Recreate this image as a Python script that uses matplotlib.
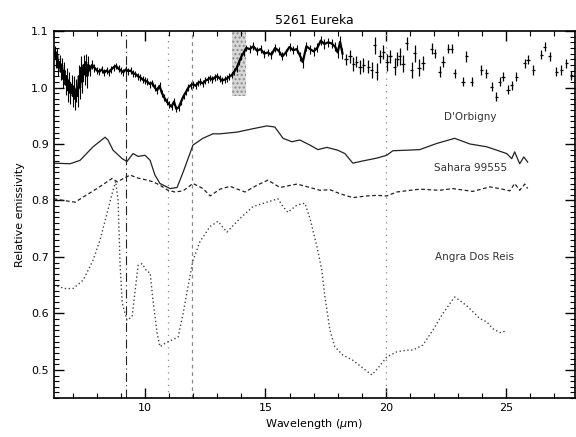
import numpy as np
import matplotlib
matplotlib.use("Agg")
import matplotlib.pyplot as plt
from matplotlib.ticker import MultipleLocator

# ---------------- data ----------------
# 5261 Eureka (dense part, 6.2-18.2 um)
eur_x_dense = [6.25, 6.3, 6.35, 6.4, 6.45, 6.5, 6.55, 6.6, 6.65, 6.7, 6.75, 6.8, 6.85, 6.9, 6.95,
               7.0, 7.05, 7.1, 7.15, 7.2, 7.25, 7.3, 7.35, 7.4, 7.45, 7.5, 7.55, 7.6, 7.65, 7.7,
               7.8, 7.9, 8.0, 8.1, 8.2, 8.3, 8.4, 8.5, 8.6, 8.7, 8.8, 8.9, 9.0, 9.1, 9.2, 9.3,
               9.4, 9.5, 9.6, 9.7, 9.8, 9.9, 10.0, 10.1, 10.2, 10.3, 10.4, 10.5, 10.6, 10.7,
               10.8, 10.9, 11.0, 11.1, 11.2, 11.3, 11.4, 11.5, 11.6, 11.7, 11.8, 11.9, 12.0,
               12.1, 12.2, 12.3, 12.4, 12.5, 12.6, 12.7, 12.8, 12.9, 13.0, 13.1, 13.2, 13.3,
               13.4, 13.5, 13.6, 13.7, 13.8, 13.9, 14.0, 14.1, 14.2, 14.35, 14.5, 14.65, 14.8,
               14.95, 15.1, 15.25, 15.4, 15.55, 15.7, 15.85, 16.0, 16.15, 16.3, 16.45, 16.55,
               16.7, 16.85, 17.0, 17.15, 17.3, 17.45, 17.6, 17.75, 17.9, 18.0, 18.1, 18.2]
eur_y_dense = [1.062, 1.05, 1.058, 1.035, 1.045, 1.028, 1.04, 1.015, 1.03, 1.005, 1.02, 0.995,
               1.01, 0.99, 1.005, 0.985, 1.0, 0.98, 0.995, 0.985, 1.02, 1.0, 1.035, 1.01, 1.04,
               1.025, 1.045, 1.02, 1.04, 1.03,
               1.04, 1.035, 1.03, 1.028, 1.032, 1.026, 1.03, 1.027, 1.032, 1.036, 1.038, 1.033,
               1.03, 1.027, 1.032, 1.029, 1.03, 1.025, 1.024, 1.02, 1.018, 1.014, 1.012, 1.01,
               1.006, 1.008, 1.0, 0.995, 1.003, 0.99, 0.982, 0.975, 0.97, 0.966, 0.975, 0.962,
               0.965, 0.975, 0.985, 0.992, 1.0, 1.004, 1.006, 1.003, 1.008, 1.01, 1.007, 1.012,
               1.014, 1.017, 1.014, 1.018, 1.02, 1.016, 1.012, 1.014, 1.016, 1.019, 1.022,
               1.028, 1.034, 1.045, 1.055, 1.062, 1.07, 1.068, 1.073, 1.065, 1.068, 1.06,
               1.062, 1.058, 1.07, 1.065, 1.055, 1.062, 1.072, 1.066, 1.068, 1.055, 1.045,
               1.073, 1.068, 1.064, 1.07, 1.083, 1.077, 1.08, 1.078, 1.072, 1.062, 1.081, 1.06]
eur_e_dense = [0.012, 0.015, 0.012, 0.015, 0.012, 0.015, 0.012, 0.015, 0.015, 0.018, 0.015, 0.02,
               0.018, 0.02, 0.018, 0.02, 0.02, 0.02, 0.02, 0.02, 0.02, 0.02, 0.02, 0.02, 0.018,
               0.02, 0.015, 0.02, 0.015, 0.01,
               0.008, 0.007, 0.006, 0.006, 0.006, 0.006, 0.006, 0.006, 0.006, 0.006, 0.006,
               0.006, 0.006, 0.006, 0.006, 0.006, 0.006, 0.006, 0.006, 0.006, 0.006, 0.006,
               0.006, 0.006, 0.006, 0.006, 0.006, 0.006, 0.006, 0.006, 0.006, 0.006, 0.006,
               0.006, 0.006, 0.006, 0.006, 0.006, 0.006, 0.006, 0.006, 0.006, 0.006, 0.006,
               0.006, 0.006, 0.006, 0.006, 0.006, 0.006, 0.006, 0.006, 0.006, 0.006, 0.006,
               0.006, 0.006, 0.006, 0.006, 0.006, 0.006, 0.006, 0.006, 0.006, 0.006, 0.007,
               0.007, 0.007, 0.007, 0.007, 0.007, 0.007, 0.007, 0.007, 0.007, 0.007, 0.007,
               0.007, 0.007, 0.008, 0.01, 0.008, 0.008, 0.008, 0.008, 0.008, 0.008, 0.008,
               0.008, 0.008, 0.01, 0.01, 0.01]

# 5261 Eureka (sparse part, 18.3-27.7 um)
eur_x_sparse = [18.35, 18.51, 18.65, 18.78, 18.92, 19.06, 19.27, 19.41, 19.54, 19.62, 19.75, 19.89,
                20.05, 20.17, 20.37, 20.48, 20.58, 20.72, 20.86, 21.07, 21.2, 21.38, 21.55, 21.9,
                22.03, 22.24, 22.38, 22.59, 22.73, 22.86, 23.21, 23.35, 23.56, 23.97, 24.17,
                24.39, 24.59, 24.73, 24.87, 25.07, 25.22, 25.42, 25.77, 25.91, 26.12, 26.46,
                26.6, 26.81, 27.08, 27.29, 27.5, 27.7]
eur_y_sparse = [1.05, 1.055, 1.042, 1.046, 1.036, 1.04, 1.037, 1.031, 1.075, 1.028, 1.055, 1.063,
                1.045, 1.055, 1.037, 1.05, 1.055, 1.042, 1.078, 1.031, 1.061, 1.035, 1.043, 1.069,
                1.061, 1.028, 1.046, 1.069, 1.069, 1.025, 1.01, 1.055, 1.01, 1.031, 1.025,
                1.001, 0.984, 1.01, 1.019, 0.996, 1.004, 1.019, 1.043, 1.049, 1.031, 1.058,
                1.072, 1.055, 1.028, 1.031, 1.043, 1.022]
eur_e_sparse = [0.01, 0.012, 0.012, 0.01, 0.012, 0.012, 0.012, 0.015, 0.015, 0.015, 0.012, 0.012,
                0.015, 0.012, 0.015, 0.012, 0.015, 0.015, 0.012, 0.015, 0.015, 0.015, 0.012, 0.01,
                0.008, 0.01, 0.01, 0.008, 0.008, 0.008, 0.008, 0.01, 0.008, 0.008, 0.008,
                0.008, 0.008, 0.008, 0.008, 0.008, 0.008, 0.008, 0.008, 0.008, 0.008, 0.008,
                0.008, 0.008, 0.008, 0.008, 0.008, 0.008]

# D'Orbigny (solid)
dorb_x = [6.2, 6.89, 7.3, 7.84, 8.34, 8.46, 8.67, 9.05, 9.25, 9.5, 9.71, 10.0, 10.21, 10.41,
          10.62, 11.04, 11.33, 11.58, 11.99, 12.4, 12.82, 13.11, 13.82, 14.48, 15.06, 15.39,
          15.73, 16.1, 16.43, 16.85, 17.18, 17.55, 18.0, 18.3, 18.63, 19.05, 19.63, 20.04,
          20.29, 20.87, 21.41, 22.12, 22.86, 23.49, 24.19, 24.61, 25.02, 25.23, 25.35, 25.56,
          25.73, 25.89]
dorb_y = [0.866, 0.865, 0.871, 0.895, 0.912, 0.907, 0.889, 0.874, 0.869, 0.883, 0.878, 0.88,
          0.871, 0.845, 0.83, 0.821, 0.823, 0.85, 0.898, 0.91, 0.918, 0.918, 0.921, 0.927,
          0.932, 0.93, 0.91, 0.904, 0.907, 0.898, 0.89, 0.894, 0.889, 0.883, 0.866, 0.87,
          0.875, 0.88, 0.888, 0.889, 0.89, 0.901, 0.91, 0.9, 0.895, 0.889, 0.883, 0.874,
          0.886, 0.865, 0.877, 0.868]

# Sahara 99555 (dashed)
sah_x = [6.2, 6.6, 7.1, 7.43, 8.0, 8.63, 8.84, 9.38, 9.67, 10.08, 10.33, 10.62, 10.95, 11.24,
         11.58, 11.99, 12.41, 12.7, 13.11, 13.53, 14.15, 14.65, 15.1, 15.6, 16.31, 16.85,
         17.26, 17.68, 18.09, 18.63, 19.21, 19.63, 20.04, 20.46, 21.41, 22.24, 22.78, 23.61,
         24.32, 24.73, 25.15, 25.35, 25.56, 25.77, 25.89]
sah_y = [0.803, 0.8, 0.797, 0.806, 0.821, 0.839, 0.833, 0.845, 0.84, 0.836, 0.833, 0.827,
         0.818, 0.815, 0.817, 0.83, 0.821, 0.808, 0.82, 0.825, 0.815, 0.827, 0.836, 0.823,
         0.829, 0.823, 0.818, 0.819, 0.812, 0.805, 0.808, 0.809, 0.808, 0.815, 0.82, 0.818,
         0.821, 0.816, 0.824, 0.821, 0.817, 0.83, 0.818, 0.829, 0.821]

# Angra Dos Reis (dotted)
angra_x = [6.2, 6.68, 7.01, 7.43, 7.84, 8.13, 8.42, 8.63, 8.78, 8.88, 8.96, 9.05, 9.25, 9.46,
           9.59, 9.71, 9.88, 10.08, 10.21, 10.33, 10.5, 10.62, 10.83, 11.12, 11.37, 11.58,
           11.78, 11.99, 12.28, 12.7, 13.03, 13.4, 13.94, 14.48, 15.06, 15.52, 15.73, 15.93,
           16.31, 16.64, 16.85, 17.14, 17.34, 17.47, 17.68, 17.88, 18.22, 18.63, 19.05, 19.42,
           19.67, 20.04, 20.46, 20.87, 21.12, 21.54, 21.95, 22.37, 22.86, 23.07, 23.4, 23.9,
           24.19, 24.44, 24.73, 25.02]
angra_y = [0.65, 0.644, 0.644, 0.659, 0.694, 0.73, 0.777, 0.812, 0.834, 0.8, 0.689, 0.618,
           0.588, 0.594, 0.641, 0.685, 0.688, 0.674, 0.672, 0.623, 0.565, 0.541, 0.547, 0.553,
           0.558, 0.6, 0.647, 0.694, 0.727, 0.754, 0.763, 0.744, 0.768, 0.789, 0.797, 0.803,
           0.789, 0.779, 0.792, 0.795, 0.768, 0.718, 0.677, 0.629, 0.57, 0.541, 0.526, 0.517,
           0.503, 0.491, 0.503, 0.523, 0.532, 0.535, 0.535, 0.544, 0.57, 0.6, 0.629, 0.623,
           0.612, 0.591, 0.585, 0.573, 0.566, 0.569]

# reference vertical lines and shaded band
vlines_x = [9.22, 10.95, 11.95, 20.0]
band_x = [13.6, 14.2]
band_y = [0.985, 1.1]

# labels
title = "5261 Eureka"
xlabel = "Wavelength ($\\mu$m)"
ylabel = "Relative emissivity"
labels = ["D'Orbigny", "Sahara 99555", "Angra Dos Reis"]
label_x = [23.5, 23.5, 23.7]
label_y = [0.947, 0.857, 0.7]

# ---------------- plot ----------------
plt.rcParams['font.family'] = ['DejaVu Sans']
fig = plt.figure(figsize=(5.76, 4.37), dpi=100)
ax = fig.add_axes([0.093, 0.089, 0.905, 0.84])

ink = '#222222'
# vertical lines
ax.axvline(vlines_x[0], color=ink, lw=0.8, ls=(0, (8, 3, 1, 3)))
ax.axvline(vlines_x[1], color='#888888', lw=0.9, ls=(0, (1, 4)))
ax.axvline(vlines_x[2], color='#888888', lw=0.9, ls=(0, (3, 3)))
ax.axvline(vlines_x[3], color='#888888', lw=0.9, ls=(0, (1, 4)))

# shaded band
ax.fill_between(band_x, band_y[0], band_y[1], facecolor='#d8d8d8',
                edgecolor='#8a8a8a', hatch='....', lw=0, zorder=1)

# spectra
ax.plot(dorb_x, dorb_y, color=ink, lw=0.9, ls='-')
ax.plot(sah_x, sah_y, color=ink, lw=0.9, ls=(0, (3, 2)))
ax.plot(angra_x, angra_y, color='#444444', lw=1.0, ls=(0, (1, 1.8)))

# Eureka data
ax.plot(eur_x_dense, eur_y_dense, color='black', lw=1.6, zorder=3)
ax.errorbar(eur_x_dense, eur_y_dense, yerr=eur_e_dense, fmt='none', ecolor='black',
            elinewidth=0.8, zorder=3)
ax.errorbar(eur_x_sparse, eur_y_sparse, yerr=eur_e_sparse, xerr=0.07, fmt='none',
            ecolor='black', elinewidth=0.9, zorder=3)

for t, x, y in zip(labels, label_x, label_y):
    ax.text(x, y, t, ha='center', va='center', fontsize=7.5, color='#333333')

ax.set_xlim(6.2, 27.85)
ax.set_ylim(0.45, 1.1)
ax.xaxis.set_major_locator(MultipleLocator(5))
ax.xaxis.set_minor_locator(MultipleLocator(1))
ax.yaxis.set_major_locator(MultipleLocator(0.1))
ax.yaxis.set_minor_locator(MultipleLocator(0.01))
ax.tick_params(which='both', direction='in', top=True, right=True, labelsize=8)
ax.tick_params(which='major', length=7, width=1.0)
ax.tick_params(which='minor', length=3.5, width=0.8)
for s in ax.spines.values():
    s.set_linewidth(1.2)

ax.set_title(title, fontsize=9, pad=5)
ax.set_xlabel(xlabel, fontsize=8, labelpad=3)
ax.set_ylabel(ylabel, fontsize=8, labelpad=4)

fig.savefig('out.png', dpi=100)
